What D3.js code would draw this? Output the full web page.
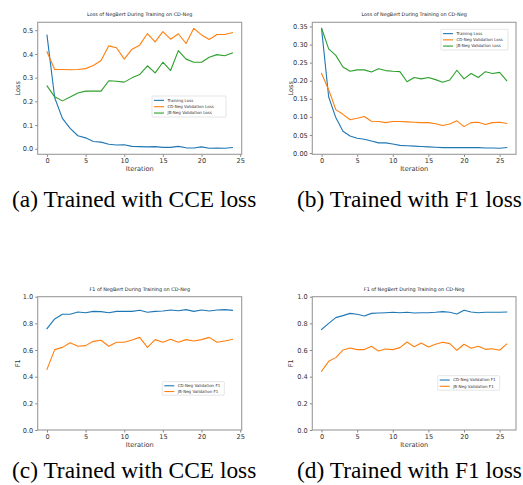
<!DOCTYPE html>
<html>
<head>
<meta charset="utf-8">
<script src="https://cdn.jsdelivr.net/npm/d3@7/dist/d3.min.js"></script>
<style>
  html, body { margin: 0; padding: 0; background: #fff; }
  svg { display: block; }
  .tick text { font-family: "DejaVu Sans", sans-serif; fill: #333; }
</style>
</head>
<body>
<svg id="chart" width="523" height="485"></svg>
<script>
// ---------- Data ----------
const lossTitle = "Loss of NegBert During Training on CD-Neg";
const f1Title = "F1 of NegBert During Training on CD-Neg";
const captions = ["(a) Trained with CCE loss", "(b) Trained with F1 loss", "(c) Trained with CCE loss", "(d) Trained with F1 loss"];

const lossSeriesNames = ["Training Loss", "CD-Neg Validation Loss", "JB-Neg Validation Loss"];
const f1SeriesNames = ["CD-Neg Validation F1", "JB-Neg Validation F1"];

// (a) CCE loss, 25 iterations
const aTrainLoss = [0.479, 0.215, 0.128, 0.086, 0.055, 0.046, 0.031, 0.028, 0.019, 0.016, 0.017, 0.010, 0.009, 0.008, 0.009, 0.006, 0.006, 0.010, 0.004, 0.003, 0.008, 0.002, 0.003, 0.002, 0.005];
const aCdLoss    = [0.409, 0.334, 0.334, 0.333, 0.334, 0.338, 0.351, 0.372, 0.434, 0.426, 0.378, 0.420, 0.437, 0.486, 0.451, 0.494, 0.462, 0.485, 0.444, 0.508, 0.480, 0.461, 0.482, 0.482, 0.490];
const aJbLoss    = [0.265, 0.219, 0.202, 0.218, 0.235, 0.243, 0.243, 0.243, 0.287, 0.285, 0.281, 0.299, 0.313, 0.350, 0.320, 0.365, 0.330, 0.414, 0.378, 0.365, 0.365, 0.386, 0.397, 0.392, 0.404];

// (b) F1 loss, 27 iterations
const bTrainLoss = [0.344, 0.155, 0.098, 0.060, 0.047, 0.041, 0.038, 0.033, 0.028, 0.028, 0.025, 0.021, 0.020, 0.019, 0.018, 0.017, 0.016, 0.015, 0.015, 0.015, 0.015, 0.015, 0.015, 0.014, 0.014, 0.013, 0.015];
const bCdLoss    = [0.220, 0.175, 0.120, 0.107, 0.092, 0.096, 0.101, 0.088, 0.087, 0.084, 0.087, 0.087, 0.086, 0.085, 0.084, 0.084, 0.081, 0.076, 0.080, 0.089, 0.073, 0.084, 0.085, 0.079, 0.084, 0.085, 0.082];
const bJbLoss    = [0.345, 0.288, 0.270, 0.238, 0.226, 0.230, 0.230, 0.224, 0.233, 0.228, 0.226, 0.225, 0.197, 0.209, 0.205, 0.209, 0.203, 0.196, 0.202, 0.229, 0.205, 0.220, 0.209, 0.225, 0.220, 0.223, 0.200];

// (c) CCE loss, F1
const cCdF1 = [0.760, 0.833, 0.868, 0.868, 0.885, 0.880, 0.890, 0.888, 0.880, 0.890, 0.890, 0.890, 0.898, 0.883, 0.890, 0.893, 0.900, 0.895, 0.903, 0.890, 0.900, 0.893, 0.900, 0.903, 0.898];
const cJbF1 = [0.455, 0.603, 0.620, 0.655, 0.628, 0.633, 0.665, 0.673, 0.628, 0.658, 0.658, 0.675, 0.695, 0.620, 0.678, 0.658, 0.680, 0.658, 0.678, 0.668, 0.678, 0.695, 0.658, 0.668, 0.680];

// (d) F1 loss, F1
const dCdF1 = [0.755, 0.800, 0.843, 0.858, 0.875, 0.868, 0.855, 0.875, 0.878, 0.880, 0.883, 0.880, 0.883, 0.878, 0.880, 0.880, 0.883, 0.888, 0.883, 0.870, 0.898, 0.885, 0.880, 0.883, 0.883, 0.883, 0.885];
const dJbF1 = [0.440, 0.515, 0.543, 0.600, 0.615, 0.603, 0.603, 0.628, 0.593, 0.608, 0.603, 0.618, 0.660, 0.625, 0.653, 0.623, 0.643, 0.658, 0.648, 0.598, 0.643, 0.613, 0.628, 0.605, 0.610, 0.598, 0.645];

const xTicks = [0, 5, 10, 15, 20, 25];
const aYTicks = [0.0, 0.1, 0.2, 0.3, 0.4, 0.5];
const bYTicks = [0.00, 0.05, 0.10, 0.15, 0.20, 0.25, 0.30, 0.35];
const f1YTicks = [0.0, 0.2, 0.4, 0.6, 0.8, 1.0];

const colors = ["#1f77b4", "#ff7f0e", "#2ca02c"];

// ---------- Layout ----------
const panels = [
  { title: lossTitle, series: [aTrainLoss, aCdLoss, aJbLoss], names: lossSeriesNames, colors: colors,
    box: {l: 37.7, r: 241.7, t: 22.3, b: 154.3}, yTicks: aYTicks, yFmt: ".1f", yLabel: "Loss", yDomain: null,
    legend: {x: 152, y: 96, w: 74, h: 21}, caption: captions[0], capPos: [12, 207] },
  { title: lossTitle, series: [bTrainLoss, bCdLoss, bJbLoss], names: lossSeriesNames, colors: colors,
    box: {l: 312.3, r: 516, t: 22.3, b: 154.3}, yTicks: bYTicks, yFmt: ".2f", yLabel: "Loss", yDomain: null,
    legend: {x: 441, y: 29.3, w: 67, h: 20.7}, caption: captions[1], capPos: [297, 207] },
  { title: f1Title, series: [cCdF1, cJbF1], names: f1SeriesNames, colors: colors,
    box: {l: 37.7, r: 241.7, t: 296.7, b: 430}, yTicks: f1YTicks, yFmt: ".1f", yLabel: "F1", yDomain: [0, 1],
    legend: {x: 162.3, y: 381.7, w: 62, h: 13.5}, caption: captions[2], capPos: [12, 478] },
  { title: f1Title, series: [dCdF1, dJbF1], names: f1SeriesNames, colors: colors,
    box: {l: 312.3, r: 516, t: 296.7, b: 430}, yTicks: f1YTicks, yFmt: ".1f", yLabel: "F1", yDomain: [0, 1],
    legend: {x: 437.7, y: 375.7, w: 62, h: 14.5}, caption: captions[3], capPos: [297, 478] }
];

const svg = d3.select("#chart");
svg.append("rect").attr("width", 523).attr("height", 485).attr("fill", "#fff");

panels.forEach(p => {
  const n = p.series[0].length;
  const xm = (n - 1) * 0.05;
  const x = d3.scaleLinear().domain([-xm, n - 1 + xm]).range([p.box.l, p.box.r]);
  let yDom = p.yDomain;
  if (!yDom) {
    const all = p.series.flat();
    const mn = d3.min(all), mx = d3.max(all), m = (mx - mn) * 0.05;
    yDom = [mn - m, mx + m];
  }
  const y = d3.scaleLinear().domain(yDom).range([p.box.b, p.box.t]);
  const g = svg.append("g");

  // Lines
  const line = d3.line().x((d, i) => x(i)).y(d => y(d));
  p.series.forEach((s, k) => {
    g.append("path").datum(s).attr("d", line)
      .attr("fill", "none").attr("stroke", p.colors[k]).attr("stroke-width", 1.1)
      .attr("stroke-linejoin", "round").attr("stroke-linecap", "square");
  });

  // Axes
  const xAxis = d3.axisBottom(x).tickValues(xTicks).tickFormat(d3.format("d")).tickSize(2.5).tickPadding(2);
  const yAxis = d3.axisLeft(y).tickValues(p.yTicks).tickFormat(d3.format(p.yFmt)).tickSize(2.5).tickPadding(2);
  const gx = g.append("g").attr("transform", `translate(0,${p.box.b})`).call(xAxis);
  const gy = g.append("g").attr("transform", `translate(${p.box.l},0)`).call(yAxis);
  [gx, gy].forEach(ax => {
    ax.select(".domain").remove();
    ax.selectAll(".tick line").attr("stroke", "#555").attr("stroke-width", 0.7);
    ax.selectAll(".tick text").attr("font-size", 6.6);
  });

  // Frame
  g.append("rect").attr("x", p.box.l).attr("y", p.box.t)
    .attr("width", p.box.r - p.box.l).attr("height", p.box.b - p.box.t)
    .attr("fill", "none").attr("stroke", "#9a9a9a").attr("stroke-width", 1.1);

  // Title
  g.append("text").attr("x", (p.box.l + p.box.r) / 2).attr("y", p.box.t - 6)
    .attr("text-anchor", "middle").attr("font-family", "DejaVu Sans, sans-serif")
    .attr("font-size", 4.9).attr("fill", "#222").text(p.title);

  // Axis labels
  g.append("text").attr("x", (p.box.l + p.box.r) / 2).attr("y", p.box.b + 17)
    .attr("text-anchor", "middle").attr("font-family", "DejaVu Sans, sans-serif")
    .attr("font-size", 6.6).attr("fill", "#333").text("Iteration");
  const yl = p.box.l === 37.7 ? 18.3 : 291;
  g.append("text").attr("transform", `translate(${yl + 2},${(p.box.t + p.box.b) / 2}) rotate(-90)`)
    .attr("text-anchor", "middle").attr("font-family", "DejaVu Sans, sans-serif")
    .attr("font-size", 6.6).attr("fill", "#333").text(p.yLabel);

  // Legend
  const L = p.legend;
  const lg = g.append("g");
  lg.append("rect").attr("x", L.x).attr("y", L.y).attr("width", L.w).attr("height", L.h)
    .attr("rx", 1).attr("fill", "#fff").attr("stroke", "#d5d5d5").attr("stroke-width", 0.6);
  const rowH = (L.h - 2) / p.names.length;
  p.names.forEach((nm, k) => {
    const cy = L.y + 1 + rowH * (k + 0.5) + 0.2;
    lg.append("line").attr("x1", L.x + 2).attr("x2", L.x + 12).attr("y1", cy).attr("y2", cy)
      .attr("stroke", p.colors[k]).attr("stroke-width", 1.1);
    lg.append("text").attr("x", L.x + 15.5).attr("y", cy + 1.4)
      .attr("font-family", "DejaVu Sans, sans-serif").attr("font-size", 4.0).attr("fill", "#333").text(nm);
  });

  // Caption
  svg.append("text").attr("x", p.capPos[0]).attr("y", p.capPos[1])
    .attr("font-family", "Liberation Serif, Times New Roman, serif").attr("font-size", 23.4)
    .attr("fill", "#000").text(p.caption);
});
</script>
</body>
</html>
